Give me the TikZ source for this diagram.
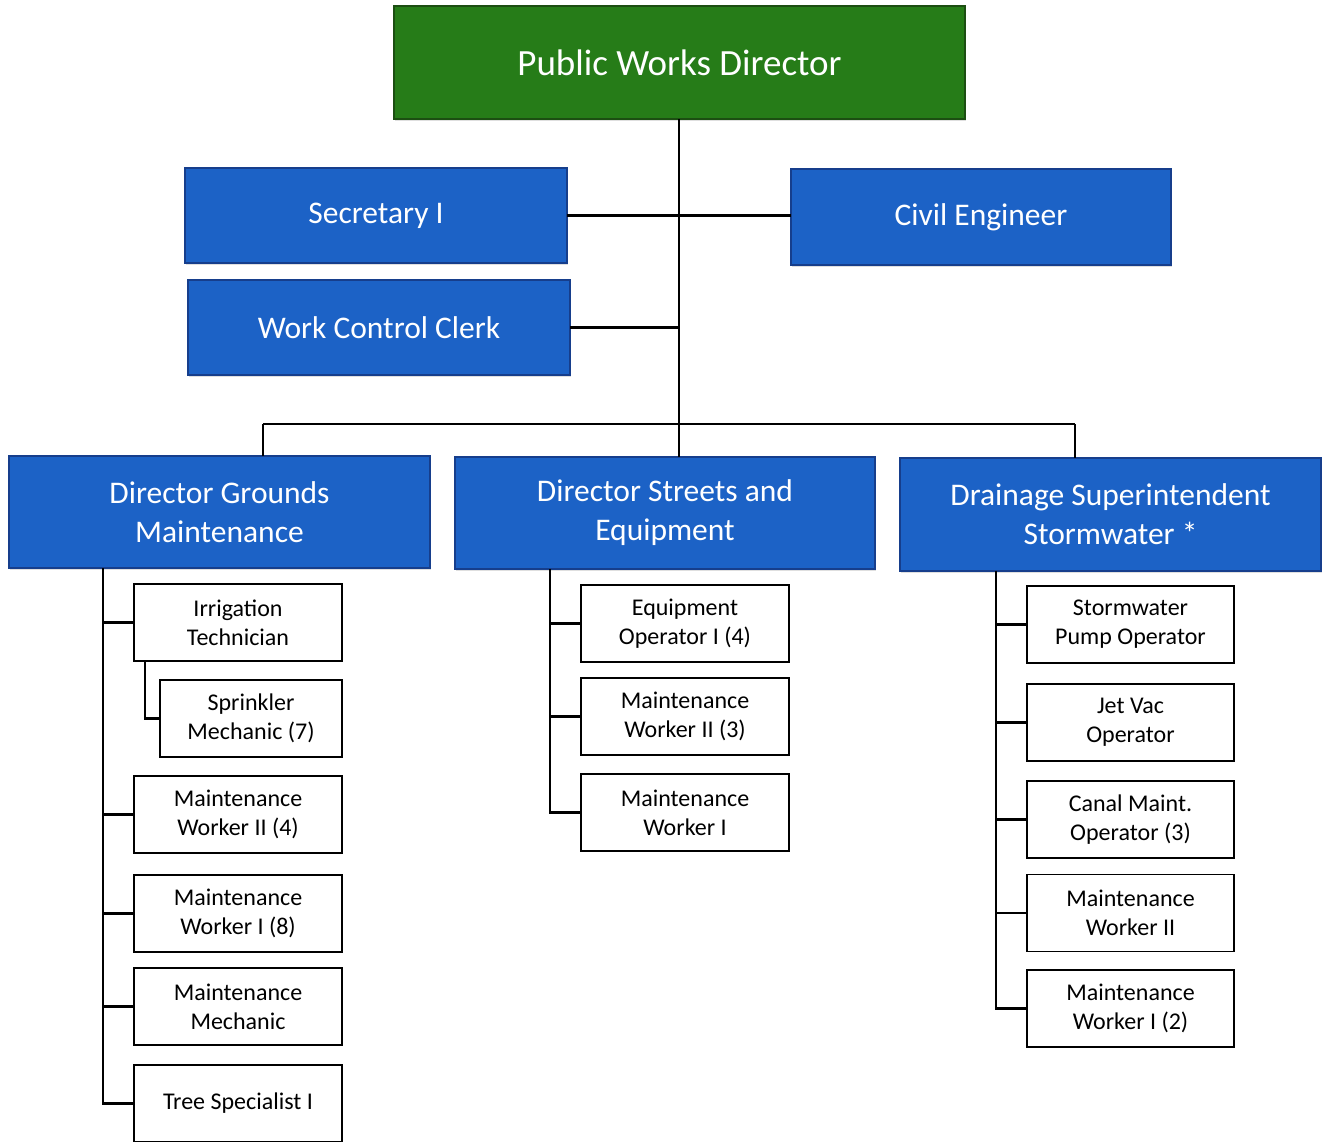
\documentclass[tikz,border=0pt]{standalone}
\usepackage{fontspec}
\setmainfont{Carlito}
\usetikzlibrary{shadows}
\definecolor{pwgreen}{RGB}{38,124,24}
\definecolor{pwgreendark}{RGB}{28,78,18}
\definecolor{pwblue}{RGB}{28,98,198}
\definecolor{pwbluedark}{RGB}{22,62,140}
\tikzset{
  x=1pt, y=1pt,
  topbox/.style={draw=pwgreendark, line width=1.5pt, fill=pwgreen, text=white, font=\fontsize{37}{44}\selectfont, align=center, inner sep=0pt, outer sep=0pt, drop shadow={opacity=0.25, shadow xshift=1pt, shadow yshift=-2pt}},
  bluebox/.style={draw=pwbluedark, line width=1.2pt, fill=pwblue, text=white, font=\fontsize{31.5}{39}\selectfont, align=center, inner sep=0pt, outer sep=0pt, drop shadow={opacity=0.25, shadow xshift=1pt, shadow yshift=-2pt}},
  whitebox/.style={draw=black, line width=1.6pt, fill=white, text=black, font=\fontsize{24}{29}\selectfont, align=center, inner sep=0pt, outer sep=0pt, minimum width=208pt, minimum height=77pt},
  conn/.style={draw=black, line width=2.2pt},
  subconn/.style={draw=black, line width=2.2pt}
}
\begin{document}
\begin{tikzpicture}
\useasboundingbox (0,0) rectangle (1325,-1141);
\fill[white] (0,0) rectangle (1325,-1141);
% top
\node[topbox, minimum width=571pt, minimum height=113pt] (pwd) at (679.5,-62.5) {Public Works Director};
\node[bluebox, minimum width=382pt, minimum height=95pt] (sec) at (376,-215.5) {Secretary I};
\node[bluebox, minimum width=380pt, minimum height=96pt] (ce) at (981,-217) {Civil Engineer};
\node[bluebox, minimum width=382pt, minimum height=95pt] (wcc) at (379,-327.5) {Work Control Clerk};
% directors
\node[bluebox, minimum width=421pt, minimum height=112pt] (dgm) at (219.5,-512) {Director Grounds\\Maintenance};
\node[bluebox, minimum width=420pt, minimum height=112pt] (dse) at (665,-513) {Director Streets and\\Equipment};
\node[bluebox, minimum width=421pt, minimum height=113pt] (dss) at (1110.5,-514.5) {Drainage Superintendent\\Stormwater *};
% bus
\coordinate (busM) at (679,-424);
\coordinate (busL) at (263,-424);
\coordinate (busR) at (1075,-424);
\draw[conn] (pwd.south -| busM) -- (busM);
\draw[conn] (sec.east) -- (sec.east -| ce.west);
\draw[conn] (wcc.east) -- (wcc.east -| busM);
\draw[conn] (busL) -- (busR);
\draw[conn] (busL) -- (busL |- dgm.north);
\draw[conn] (busM) -- (busM |- dse.north);
\draw[conn] (busR) -- (busR |- dss.north);
% left column
\node[whitebox] (it) at (238,-622.5) {Irrigation\\Technician};
\node[whitebox, minimum width=182pt] (sm) at (251,-718.5) {Sprinkler\\Mechanic (7)};
\node[whitebox] (mw2a) at (238,-814.5) {Maintenance\\Worker II (4)};
\node[whitebox] (mw1a) at (238,-913.5) {Maintenance\\Worker I (8)};
\node[whitebox] (mm) at (238,-1006.5) {Maintenance\\Mechanic};
\node[whitebox] (ts) at (238,-1103.5) {Tree Specialist I};
\coordinate (ls) at (103,-568);
\draw[conn] (ls) |- (ts.west);
\draw[subconn] (ls |- it.west) -- (it.west);
\draw[subconn] (ls |- mw2a.west) -- (mw2a.west);
\draw[subconn] (ls |- mw1a.west) -- (mw1a.west);
\draw[subconn] (ls |- mm.west) -- (mm.west);
\draw[subconn] ([xshift=11pt]it.south west) |- (sm.west);
% middle column
\node[whitebox] (eo) at (685,-623.5) {Equipment\\Operator I (4)};
\node[whitebox] (mw2b) at (685,-716.5) {Maintenance\\Worker II (3)};
\node[whitebox] (mw1b) at (685,-812.5) {Maintenance\\Worker I};
\coordinate (ms) at (550,-569);
\draw[conn] (ms) |- (mw1b.west);
\draw[subconn] (ms |- eo.west) -- (eo.west);
\draw[subconn] (ms |- mw2b.west) -- (mw2b.west);
% right column
\node[whitebox, minimum width=207pt] (spo) at (1130.5,-624.5) {Stormwater\\Pump Operator};
\node[whitebox, minimum width=207pt] (jvo) at (1130.5,-722.5) {Jet Vac\\Operator};
\node[whitebox, minimum width=207pt] (cmo) at (1130.5,-819.5) {Canal Maint.\\Operator (3)};
\node[whitebox, minimum width=207pt] (mw2c) at (1130.5,-913) {Maintenance\\Worker II};
\node[whitebox, minimum width=207pt] (mw1c) at (1130.5,-1008.5) {Maintenance\\Worker I (2)};
\coordinate (rs) at (996,-571);
\draw[conn] (rs) |- (mw1c.west);
\draw[subconn] (rs |- spo.west) -- (spo.west);
\draw[subconn] (rs |- jvo.west) -- (jvo.west);
\draw[subconn] (rs |- cmo.west) -- (cmo.west);
\draw[subconn] (rs |- mw2c.west) -- (mw2c.west);
\end{tikzpicture}
\end{document}
